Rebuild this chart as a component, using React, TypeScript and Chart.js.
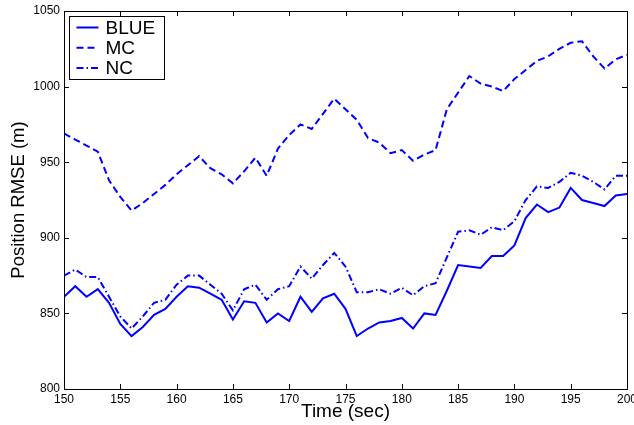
import React, { useEffect, useRef } from 'react';
import { Chart, registerables } from 'chart.js';

Chart.register(...registerables);

const times = [
  150, 151, 152, 153, 154, 155, 156, 157, 158, 159,
  160, 161, 162, 163, 164, 165, 166, 167, 168, 169,
  170, 171, 172, 173, 174, 175, 176, 177, 178, 179,
  180, 181, 182, 183, 184, 185, 186, 187, 188, 189,
  190, 191, 192, 193, 194, 195, 196, 197, 198, 199, 200,
];

const blue = [
  861, 868, 861, 866, 857, 843, 835, 841, 849, 853,
  861, 868, 867, 863, 859, 846, 858, 857, 844, 850,
  845, 861, 851, 860, 863, 853, 835, 840, 844, 845,
  847, 840, 850, 849, 865, 882, 881, 880, 888, 888,
  895, 913, 922, 917, 920, 933, 925, 923, 921, 928, 929,
];

const mc = [
  969, 965, 961, 957, 938, 927, 918, 923, 929, 935,
  942, 948, 954, 946, 942, 936, 944, 953, 941, 959,
  968, 975, 972, 982, 992, 985, 978, 966, 963, 956,
  958, 951, 955, 958, 985, 996, 1007, 1002, 1000, 997,
  1005, 1011, 1017, 1020, 1025, 1029, 1030, 1020, 1012, 1018, 1021,
];

const nc = [
  875, 879, 874, 874, 861, 848, 840, 848, 857, 859,
  869, 875, 875, 869, 863, 852, 866, 869, 859, 866,
  868, 881, 873, 882, 890, 881, 864, 864, 866, 863,
  867, 862, 868, 870, 887, 904, 905, 902, 907, 905,
  911, 925, 934, 933, 937, 943, 941, 937, 932, 941, 941,
];

const seriesNames = ['BLUE', 'MC', 'NC'];
const xTitle = 'Time (sec)';
const yTitle = 'Position RMSE (m)';

const FONT = '"Liberation Sans", Arial, Helvetica, sans-serif';
const BLUE_COLOR = '#0000ff';
const DASHES: number[][] = [[], [7, 4], [7, 3, 1.5, 3]];

const framePlugin = {
  id: 'frameAndLegend',
  afterDraw(chart: any) {
    const { ctx, chartArea } = chart;
    const { left, right, top, bottom } = chartArea;
    const xs = chart.scales.x;
    const ys = chart.scales.y;
    const tl = 5;
    ctx.save();
    ctx.strokeStyle = '#000';
    ctx.lineWidth = 1;
    ctx.setLineDash([]);
    ctx.strokeRect(Math.round(left) + 0.5, Math.round(top) + 0.5, Math.round(right - left), Math.round(bottom - top));
    ctx.beginPath();
    xs.ticks.forEach((t: any) => {
      const px = Math.round(xs.getPixelForValue(t.value)) + 0.5;
      ctx.moveTo(px, bottom);
      ctx.lineTo(px, bottom - tl);
      ctx.moveTo(px, top);
      ctx.lineTo(px, top + tl);
    });
    ys.ticks.forEach((t: any) => {
      const py = Math.round(ys.getPixelForValue(t.value)) + 0.5;
      ctx.moveTo(left, py);
      ctx.lineTo(left + tl, py);
      ctx.moveTo(right, py);
      ctx.lineTo(right - tl, py);
    });
    ctx.stroke();

    const lx = Math.round(left) + 5.5;
    const ly = Math.round(top) + 5.5;
    const lw = 95;
    const lh = 63;
    ctx.fillStyle = '#fff';
    ctx.fillRect(lx, ly, lw, lh);
    ctx.strokeStyle = '#000';
    ctx.lineWidth = 1;
    ctx.strokeRect(lx, ly, lw, lh);
    chart.data.datasets.forEach((ds: any, i: number) => {
      const cy = ly + 11 + i * 20.3;
      ctx.strokeStyle = ds.borderColor;
      ctx.lineWidth = 2;
      ctx.setLineDash(ds.borderDash || []);
      ctx.beginPath();
      ctx.moveTo(lx + 7, cy);
      ctx.lineTo(lx + 29, cy);
      ctx.stroke();
      ctx.setLineDash([]);
      ctx.fillStyle = '#000';
      ctx.font = `19px ${FONT}`;
      ctx.textBaseline = 'middle';
      ctx.textAlign = 'left';
      ctx.fillText(ds.label, lx + 36, cy + 1);
    });
    ctx.restore();
  },
};

export default function App() {
  const ref = useRef<HTMLCanvasElement | null>(null);

  useEffect(() => {
    document.body.style.margin = '0';
    const canvas = ref.current;
    if (!canvas) return;
    const allSeries = [blue, mc, nc];
    const chart = new Chart(canvas, {
      type: 'line',
      data: {
        datasets: allSeries.map((arr, i) => ({
          label: seriesNames[i],
          data: times.map((t, k) => ({ x: t, y: arr[k] })),
          borderColor: BLUE_COLOR,
          backgroundColor: BLUE_COLOR,
          borderWidth: 2,
          borderDash: DASHES[i],
          pointRadius: 0,
          tension: 0,
          fill: false,
        })),
      },
      options: {
        animation: false,
        responsive: false,
        devicePixelRatio: 1,
        layout: { padding: { top: 11, right: 7, left: 0, bottom: 0 } },
        plugins: {
          legend: { display: false },
          tooltip: { enabled: false },
        },
        scales: {
          x: {
            type: 'linear',
            min: 150,
            max: 200,
            grid: { display: false, drawTicks: false },
            border: { display: false },
            ticks: {
              stepSize: 5,
              padding: 3,
              color: '#000',
              font: { family: FONT, size: 12 },
              maxRotation: 0,
              callback: (v: any) => String(v),
            },
            title: {
              display: true,
              text: xTitle,
              color: '#000',
              font: { family: FONT, size: 19 },
              padding: { top: 0, bottom: 2 },
            },
            afterFit: (s: any) => {
              s.height = 36;
              s.paddingLeft = 0;
              s.paddingRight = 0;
            },
          },
          y: {
            type: 'linear',
            min: 800,
            max: 1050,
            grid: { display: false, drawTicks: false },
            border: { display: false },
            ticks: {
              stepSize: 50,
              padding: 4,
              color: '#000',
              font: { family: FONT, size: 12 },
              callback: (v: any) => String(v),
            },
            title: {
              display: true,
              text: yTitle,
              color: '#000',
              font: { family: FONT, size: 18.5 },
              padding: { top: 8, bottom: 0 },
            },
            afterFit: (s: any) => {
              s.width = 64;
              s.paddingTop = 0;
              s.paddingBottom = 0;
            },
          },
        },
      },
      plugins: [framePlugin],
    });
    return () => chart.destroy();
  }, []);

  return (
    <div style={{ width: 634, height: 425, background: '#fff' }}>
      <canvas ref={ref} width={634} height={425} style={{ display: 'block' }} />
    </div>
  );
}
